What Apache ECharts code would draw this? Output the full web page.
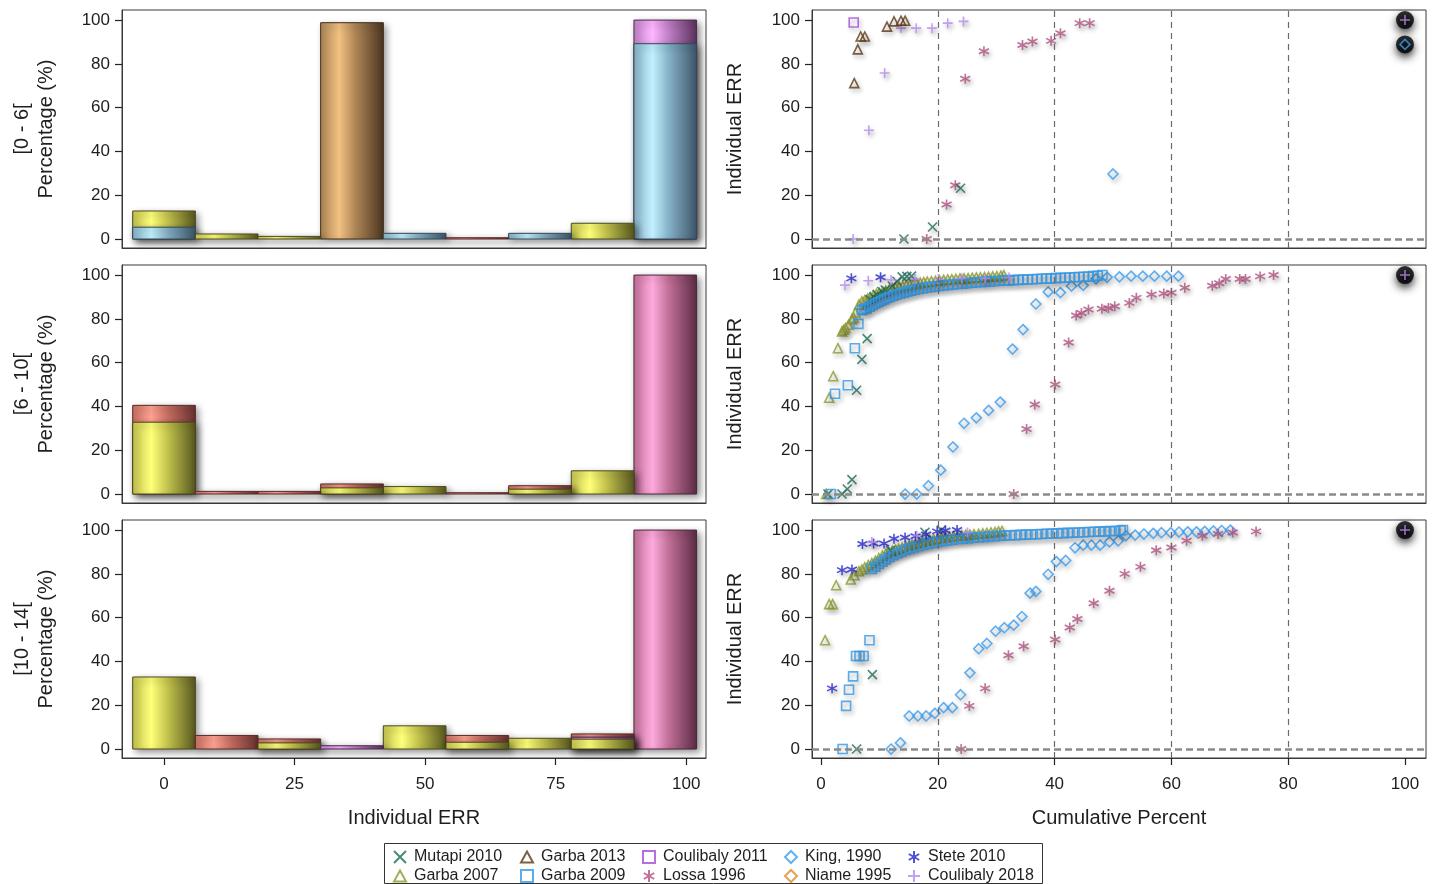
<!DOCTYPE html>
<html><head><meta charset="utf-8">
<script src="https://cdn.jsdelivr.net/npm/echarts@6/dist/echarts.min.js"></script>
<style>html,body{margin:0;padding:0;background:#fff}#c{width:1434px;height:884px}</style>
</head><body><div id="c"></div>
<script>
// ---------------- DATA ----------------
const ageGroups = ['[0 - 6[', '[6 - 10[', '[10 - 14['];
const binMid = [0, 12, 24, 36, 48, 60, 72, 84, 96];
const histTicks = [0, 25, 50, 75, 100];
const pctTicks = [0, 20, 40, 60, 80, 100];
const cumTicks = [0, 20, 40, 60, 80, 100];
const refVertical = [20, 40, 60, 80];
const refHorizontal = 0;

// histogram heights (%), overlaid groups, panel [0 - 6[
const h06Yellow = [12.8, 2.3, 1.2, 0, 0, 0, 0, 7.2, 0];
const h06Blue   = [5.4, 0, 0, 0, 2.6, 0, 2.6, 0, 89.2];
const h06Tan    = [0, 0, 0, 98.8, 0, 0, 0, 0, 0];
const h06Purple = [0, 0, 0, 0, 0, 0, 0, 0, 100];
const h06Salmon = [0, 0, 0, 0, 0, 0.6, 0, 0, 0];
// panel [6 - 10[
const h610Yellow = [32.8, 0, 0, 2.8, 3.4, 0, 2.2, 10.6, 0];
const h610Salmon = [40.5, 1.2, 1.2, 4.6, 0, 0.6, 3.8, 0, 0];
const h610Pink   = [0, 0, 0, 0, 0, 0, 0, 0, 100];
// panel [10 - 14[
const h1014Yellow = [32.9, 0, 2.8, 0, 10.6, 3.1, 4.9, 4.5, 0];
const h1014Salmon = [0, 6.2, 4.6, 0, 0, 6.2, 0, 6.9, 0];
const h1014Purple = [0, 0, 0, 1.5, 0, 0, 0, 5.4, 0];
const h1014Pink   = [0, 0, 0, 0, 0, 0, 0, 0, 100];

// scatter: [cumulative percent, individual ERR], panel [0 - 6[
const mut06 = [[14.2,0],[19.1,5.5],[23.9,23.2]];
const g13_06 = [[5.7,71.2],[6.3,86.6],[6.8,92.5],[7.5,92.5],[11.3,97],[12.5,99.4],[13.7,99.7],[14.4,99.7]];
const c11_06 = [[5.6,98.9]];
const king06 = [[50,29.7],[100,88.9]];
const los06 = [[18.1,0],[21.5,15.8],[23,24.6],[24.7,73.2],[27.9,85.8],[34.5,88.6],[36.2,90.2],[39.4,90.5],[41,94],[44.3,98.6],[46,98.6]];
const c18_06 = [[5.5,0],[8.2,49.7],[10.9,75.8],[13.7,96.3],[16.3,96.3],[19,96.3],[21.7,98.6],[24.4,99.4],[100,100]];

// panel [6 - 10[
const mut610 = [[1.2,0],[3.6,0],[4.5,2.3],[5.3,6.6],[6.1,47.4],[7.0,61.5],[7.9,71],[8.4,88.8],[9.0,90],[9.6,91.1],[10.4,92.5],[11.0,93.2],[12.2,95],[13.0,97.2],[13.9,99.2],[14.7,99.4],[15.5,99.5]];
const g07_610 = [[0.9,0],[1.4,44],[2.1,53.8],[2.9,66.6],[3.6,74.3],[3.9,75],[4.2,75.8],[4.7,77.3],[5.3,79.8],[5.6,80.5],[5.9,82.9],[6.5,86.5],[7.0,88],[7.5,88.6],[8.0,89.3],[8.5,90],[9.0,90.8],[9.5,91.4],[10.0,91.9],[10.6,92.4],[11.1,93],[11.7,93.5],[12.2,94],[12.8,94.3],[13.4,94.7],[14.0,95],[14.6,95.3],[15.2,95.6],[15.8,95.9],[16.4,96.2],[17.0,96.5],[17.6,96.8],[18.2,97],[18.9,97.2],[19.6,97.4],[20.3,97.6],[21.0,97.8],[21.7,98],[22.4,98.1],[23.1,98.3],[23.8,98.4],[24.5,98.5],[25.2,98.6],[25.9,98.8],[26.6,98.9],[27.3,99],[28.0,99.1],[28.7,99.2],[29.4,99.4],[30.1,99.5],[30.8,99.7],[31.3,100]];
const g09_610 = [[1.7,0],[2.4,45.8],[4.6,49.7],[5.8,66.6],[6.4,77.7],[7.0,84],[7.4,84.4],[7.8,84.8],[8.3,85.5],[8.8,86.2],[9.3,87],[9.8,87.6],[10.3,88.3],[10.8,88.9],[11.3,89.5],[11.8,90],[12.4,90.6],[13.0,91.1],[13.6,91.6],[14.2,92.1],[14.8,92.5],[15.4,92.9],[16.0,93.3],[16.7,93.7],[17.4,94],[18.1,94.3],[18.8,94.6],[19.5,94.8],[20.2,95],[21.0,95.3],[21.8,95.5],[22.6,95.7],[23.4,95.9],[24.2,96.1],[25.0,96.3],[25.8,96.5],[26.6,96.7],[27.4,96.8],[28.2,97],[29.0,97.1],[29.8,97.3],[30.6,97.4],[31.4,97.5],[32.2,97.6],[33.0,97.7],[33.8,97.8],[34.6,97.9],[35.4,98],[36.2,98.1],[37.0,98.2],[37.8,98.3],[38.6,98.4],[39.4,98.5],[40.2,98.6],[41.0,98.7],[41.8,98.8],[42.6,98.9],[43.4,99],[44.2,99.1],[45.0,99.2],[45.8,99.3],[46.6,99.5],[47.4,99.7],[48.2,100]];
const stete610 = [[5.2,98.5],[10.2,99]];
const c18_610 = [[4.1,95.4],[8.1,97.4],[12,97.8],[16.1,98.2],[20.1,98.2],[24.1,98.5],[28.1,98.5],[32.2,98.9],[100,100]];
const king610 = [[14.4,0],[16.4,0],[18.4,3.8],[20.5,10.9],[22.6,21.5],[24.5,32.3],[26.6,34.8],[28.7,38.2],[30.7,42],[32.8,66.2],[34.6,75.1],[36.8,86.8],[38.9,92.3],[41,92],[42.9,95],[44.9,95.3],[47.1,98.3],[49,99],[51.1,99.2],[53.1,99.5],[55.1,99.5],[57.1,99.5],[59.2,99.5],[61.2,99.5]];
const los610 = [[33,0],[35.2,29.7],[36.6,40.9],[40.1,50],[42.4,69.2],[43.7,81.5],[44.6,82.7],[45.8,84.3],[48.1,84.6],[49.2,85],[50.3,85.8],[52.8,87.3],[54,89.6],[56.6,91.1],[58.7,91.6],[60,91.9],[62.3,94.2],[67,95.1],[68.2,96.3],[69.3,98.2],[71.7,98.2],[72.7,98.2],[75.2,99.4],[77.5,100]];

// panel [10 - 14[
const stete1014 = [[1.9,27.7],[3.6,81.7],[5.3,82],[7.1,93.6],[9,93.9],[10.8,93.9],[12.5,96],[14.4,96.6],[16.2,97.2],[18,98],[19.9,99.4],[21.3,99.8],[23.3,100]];
const g07_1014 = [[0.7,49.7],[1.4,66.2],[2.0,66.2],[2.6,74.8],[5.1,77.4],[5.7,79.4],[6.5,81.2],[7.0,82],[7.5,83],[8.1,84],[8.7,84.9],[9.3,86],[9.9,87.2],[10.5,88.3],[11.1,89.2],[11.6,90],[12.2,90.5],[12.8,91],[13.3,91.4],[13.9,92],[14.5,92.6],[15.1,93],[15.6,93.4],[16.2,93.8],[16.8,94.2],[17.4,94.6],[18.0,95],[18.6,95.4],[19.3,95.8],[20.0,96.1],[20.6,96.4],[21.3,96.8],[22.0,97],[22.7,97.2],[23.4,97.4],[24.1,97.6],[24.8,97.8],[25.5,97.9],[26.2,98.1],[27.0,98.3],[27.7,98.5],[28.4,98.7],[29.1,98.9],[29.8,99.1],[30.4,99.4],[31.0,99.6]];
const g09_1014 = [[3.7,0],[4.3,19.7],[4.8,27.1],[5.5,33.2],[6.0,42.5],[6.6,42.5],[7.3,42.5],[8.3,49.7],[8.7,82.3],[9.3,83.3],[9.9,84.5],[10.5,85.5],[11.1,86.6],[11.7,87.6],[12.4,88.5],[13.1,89.4],[13.8,90.2],[14.5,91],[15.2,91.6],[15.9,92.2],[16.7,92.8],[17.5,93.3],[18.3,93.8],[19.1,94.2],[19.9,94.6],[20.7,95],[21.6,95.3],[22.5,95.6],[23.4,95.9],[24.3,96.1],[25.2,96.3],[26.1,96.5],[27.0,96.7],[27.9,96.9],[28.8,97.1],[29.7,97.2],[30.6,97.4],[31.5,97.5],[32.4,97.6],[33.3,97.7],[34.2,97.8],[35.1,97.9],[36.0,98],[36.9,98.1],[37.8,98.2],[38.7,98.3],[39.6,98.4],[40.5,98.5],[41.4,98.6],[42.3,98.7],[43.2,98.8],[44.1,98.9],[45.0,99],[45.9,99.1],[46.8,99.2],[47.7,99.3],[48.6,99.4],[49.5,99.5],[50.4,99.6],[51.3,99.8],[51.7,100]];
const mut1014 = [[6.1,0],[8.8,34],[11.9,90.7],[17.8,99],[20.6,100]];
const c18_1014 = [[8.7,94.5],[16.4,97.4],[25.1,98.9],[100,100]];
const king1014 = [[12,0],[13.6,2.8],[15.1,15.1],[16.6,15.1],[18,15.1],[19.5,16.3],[21,18.9],[22.5,18.9],[23.9,24.8],[25.5,34.8],[27,45.8],[28.4,48.2],[29.9,53.8],[31.4,55.4],[33,56.6],[34.4,60.5],[35.8,71.2],[36.8,72],[38.9,79.8],[40.3,85.6],[41.9,86.1],[43.5,91.9],[44.9,93.1],[46.3,93.1],[47.8,93.1],[49.4,94.6],[50.9,95.1],[52.2,97.4],[53.8,97.7],[55.3,98.2],[56.9,98.5],[58.3,98.8],[59.9,98.8],[61.3,99.1],[62.8,99.2],[64.3,99.2],[65.7,99.4],[67.2,99.6],[68.6,99.8],[70.1,100]];
const los1014 = [[24,0],[25.4,19.7],[28.1,27.7],[32.1,42.8],[34.7,46.9],[40.1,50],[42.6,55.5],[43.9,59.4],[46.7,66.6],[49.4,72.3],[52,80],[54.7,83.2],[57.4,90.8],[60,92],[62.6,95.1],[65.3,97.4],[68,98.2],[70.5,98.9],[74.5,99.4]];
const niame1014 = [];

// ---------------- STYLE ----------------
const FONT = '"Liberation Sans", Arial, Helvetica, sans-serif';
const TXT = '#1e1e1e';
const PAL = [
  {bright:'#ffff7a', mid:'#c4c44e', dark:'#56561f', edge:'#4a4a1c'}, // yellow
  {bright:'#c2f0ff', mid:'#86b2c8', dark:'#3c5468', edge:'#34485a'}, // blue
  {bright:'#f2c182', mid:'#ae8656', dark:'#4a3420', edge:'#3e2c1a'}, // tan
  {bright:'#ffb6ff', mid:'#c080c6', dark:'#5a305c', edge:'#4c284e'}, // purple
  {bright:'#ffa292', mid:'#c87062', dark:'#683030', edge:'#5a2a2a'}, // salmon
  {bright:'#ffaade', mid:'#c27098', dark:'#5a2c44', edge:'#4c263a'}  // pink
];
const histPanels = [
  [[0,h06Yellow],[1,h06Blue],[2,h06Tan],[3,h06Purple],[4,h06Salmon]],
  [[0,h610Yellow],[4,h610Salmon],[5,h610Pink]],
  [[0,h1014Yellow],[4,h1014Salmon],[3,h1014Purple],[5,h1014Pink]]
];
const P_X = 'path://M0,0L10,10M10,0L0,10';
const P_PLUS = 'path://M5,0L5,10M0,5L10,5';
const P_AST = 'path://M5,0L5,10M0.67,2.5L9.33,7.5M0.67,7.5L9.33,2.5';
const P_TRI = 'path://M5,0L10,9L0,9Z';
const P_SQ = 'path://M0,0L10,0L10,10L0,10Z';
const P_DIA = 'path://M5,0L10,5L5,10L0,5Z';
const STY = {
  'Mutapi 2010': {sym:P_X, color:'#1d6b5a', size:9},
  'Garba 2013': {sym:P_TRI, color:'#5b3814', size:9},
  'Coulibaly 2011': {sym:P_SQ, color:'#a64ad8', size:9},
  'King, 1990': {sym:P_DIA, color:'#3a9cf0', size:10},
  'Stete 2010': {sym:P_AST, color:'#2626cc', size:10},
  'Garba 2007': {sym:P_TRI, color:'#8c9a2c', size:9},
  'Garba 2009': {sym:P_SQ, color:'#3399e6', size:9},
  'Lossa 1996': {sym:P_AST, color:'#b0507e', size:10},
  'Niame 1995': {sym:P_DIA, color:'#e0892c', size:10},
  'Coulibaly 2018': {sym:P_PLUS, color:'#b38cf0', size:10}
};
const scatterPanels = [
  [['King, 1990',king06],['Lossa 1996',los06],['Mutapi 2010',mut06],['Coulibaly 2018',c18_06],['Garba 2013',g13_06],['Coulibaly 2011',c11_06]],
  [['King, 1990',king610],['Lossa 1996',los610],['Garba 2007',g07_610],['Mutapi 2010',mut610],['Garba 2009',g09_610],['Stete 2010',stete610],['Coulibaly 2018',c18_610]],
  [['King, 1990',king1014],['Lossa 1996',los1014],['Garba 2007',g07_1014],['Mutapi 2010',mut1014],['Garba 2009',g09_1014],['Stete 2010',stete1014],['Coulibaly 2018',c18_1014],['Niame 1995',niame1014]]
];

const TOPS = [10, 265, 520], H = 238;
const grids = [], xAxes = [], yAxes = [], series = [];
const tickLbl = {fontFamily: FONT, fontSize: 17, color: TXT};
const axLine = {show: true, onZero: false, lineStyle: {color: '#3a3a3a', width: 1}};
const tick = {show: true, inside: false, length: 7, lineStyle: {color: '#222', width: 1.2}};

TOPS.forEach((top, p) => {
  const last = p === 2;
  grids.push({left: 122, width: 584, top: top, height: H, show: true, borderColor: '#3a3a3a', borderWidth: 1, backgroundColor: 'transparent'});
  grids.push({left: 812, width: 614, top: top, height: H, show: true, borderColor: '#3a3a3a', borderWidth: 1, backgroundColor: 'transparent'});
  const gl = p * 2, gr = p * 2 + 1;
  xAxes.push({gridIndex: gl, type: 'value', min: -8.05, max: 103.8, position: 'bottom',
    axisLine: axLine, splitLine: {show: false},
    axisTick: {...tick, show: last, customValues: histTicks},
    axisLabel: {show: last, margin: 18, ...tickLbl, customValues: histTicks},
    name: last ? 'Individual ERR' : '', nameLocation: 'middle', nameGap: 50,
    nameTextStyle: {fontFamily: FONT, fontSize: 20, color: TXT}});
  xAxes.push({gridIndex: gr, type: 'value', min: -1.54, max: 103.6, position: 'bottom',
    axisLine: axLine, splitLine: {show: false},
    axisTick: {...tick, show: last, customValues: cumTicks},
    axisLabel: {show: last, margin: 18, ...tickLbl, customValues: cumTicks},
    name: last ? 'Cumulative Percent' : '', nameLocation: 'middle', nameGap: 50,
    nameTextStyle: {fontFamily: FONT, fontSize: 20, color: TXT}});
  yAxes.push({gridIndex: gl, type: 'value', min: -4.1, max: 104.6, position: 'left',
    axisLine: axLine, splitLine: {show: false},
    axisTick: {...tick, customValues: pctTicks},
    axisLabel: {margin: 12, ...tickLbl, customValues: pctTicks},
    name: ageGroups[p] + '\nPercentage (%)', nameLocation: 'middle', nameGap: 64, nameRotate: 90,
    nameTextStyle: {fontFamily: FONT, fontSize: 20, color: TXT, lineHeight: 24}});
  yAxes.push({gridIndex: gr, type: 'value', min: -4.1, max: 104.6, position: 'left',
    axisLine: axLine, splitLine: {show: false},
    axisTick: {...tick, customValues: pctTicks},
    axisLabel: {margin: 12, ...tickLbl, customValues: pctTicks},
    name: 'Individual ERR', nameLocation: 'middle', nameGap: 67, nameRotate: 90,
    nameTextStyle: {fontFamily: FONT, fontSize: 20, color: TXT}});

  // histogram (overlaid bars: tallest drawn first)
  const hd = [];
  histPanels[p].forEach(([k, vals]) => vals.forEach((v, i) => { if (v > 0) hd.push([binMid[i], v, k]); }));
  hd.sort((a, b) => b[1] - a[1]);
  const bw = binMid[1] - binMid[0];
  series.push({type: 'custom', xAxisIndex: gl, yAxisIndex: gl, data: hd, silent: true,
    renderItem: (params, api) => {
      const x = api.value(0), h = api.value(1), c = PAL[api.value(2)];
      const a = api.coord([x - bw / 2, h]), b = api.coord([x + bw / 2, 0]);
      return {type: 'rect', shape: {x: a[0], y: a[1], width: b[0] - a[0], height: b[1] - a[1]},
        style: {fill: new echarts.graphic.LinearGradient(0, 0, 1, 0, [
          {offset: 0, color: c.mid}, {offset: 0.3, color: c.bright}, {offset: 0.55, color: c.mid}, {offset: 1, color: c.dark}]),
          stroke: c.edge, lineWidth: 1, shadowBlur: 7, shadowOffsetX: 3, shadowOffsetY: 3, shadowColor: 'rgba(0,0,0,0.45)'}};
    }});

  // black piles where many identical points overlap at 100%
  const pile = [];
  scatterPanels[p].forEach(([n, d]) => d.forEach(pt => { if (pt[0] === 100) pile.push(pt); }));
  series.push({type: 'scatter', xAxisIndex: gr, yAxisIndex: gr, data: pile, symbol: 'circle', symbolSize: 18, silent: true, z: 2,
    itemStyle: {color: '#000', shadowBlur: 9, shadowColor: 'rgba(0,0,0,0.95)', shadowOffsetY: 4}});

  // reference lines
  series.push({type: 'scatter', xAxisIndex: gr, yAxisIndex: gr, data: [], silent: true, z: 1,
    markLine: {silent: true, symbol: 'none', label: {show: false}, animation: false,
      data: [
        ...refVertical.map(v => ({xAxis: v, lineStyle: {color: '#6a6a6a', width: 1.2, type: [6, 5]}})),
        {yAxis: refHorizontal, lineStyle: {color: '#8a8a8a', width: 2.6, type: [7, 4]}}
      ]}});

  scatterPanels[p].forEach(([n, d]) => {
    const s = STY[n];
    series.push({type: 'scatter', name: n, xAxisIndex: gr, yAxisIndex: gr, data: d, z: 3,
      symbol: s.sym, symbolSize: s.size, emphasis: {disabled: true},
      itemStyle: {color: 'rgba(0,0,0,0)', borderColor: s.color, borderWidth: 1.6,
        shadowBlur: 4, shadowColor: 'rgba(0,0,0,0.35)', shadowOffsetX: 2, shadowOffsetY: 3}});
  });
});

const legendCols = [['Mutapi 2010','Garba 2007'],['Garba 2013','Garba 2009'],['Coulibaly 2011','Lossa 1996'],['King, 1990','Niame 1995'],['Stete 2010','Coulibaly 2018']];
const legendLefts = [393, 520, 642, 784, 907];
const legends = legendCols.map((col, i) => ({
  data: col, left: legendLefts[i], top: 848, height: 80, width: 150, orient: 'vertical', itemGap: 1, itemWidth: 12, itemHeight: 12,
  padding: 0, selectedMode: false,
  textStyle: {fontFamily: FONT, fontSize: 16, color: TXT, lineHeight: 18, padding: [0, 0, 0, 3]}
}));

const chart = echarts.init(document.getElementById('c'), null, {renderer: 'canvas'});
chart.setOption({
  animation: false,
  backgroundColor: '#fff',
  grid: grids, xAxis: xAxes, yAxis: yAxes, series: series, legend: legends,
  graphic: [{type: 'rect', shape: {x: 384.5, y: 843.5, width: 658, height: 40}, style: {fill: 'none', stroke: '#333', lineWidth: 1}, silent: true}]
});
</script></body></html>
